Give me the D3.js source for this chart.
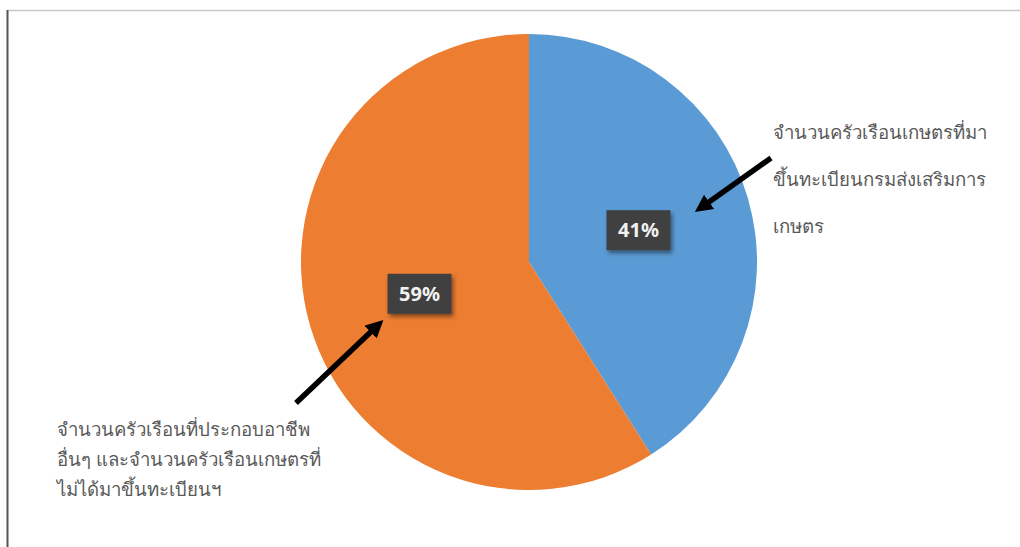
<!DOCTYPE html>
<html>
<head>
<meta charset="utf-8">
<title>Pie chart</title>
<script src="https://cdnjs.cloudflare.com/ajax/libs/d3/7.8.5/d3.min.js"></script>
<style>
body { margin:0; background:#fff; }
svg text { font-family: "Noto Sans", "DejaVu Sans", sans-serif; }
</style>
</head>
<body>
<div id="chart"></div>
<script>
// slice data, clockwise from the top
var categories = ['จำนวนครัวเรือนเกษตรที่มาขึ้นทะเบียน', 'จำนวนครัวเรือนอื่นๆ'];
var values = [41, 59];
var colors = ['#5b9bd5', '#ed7d31'];

// annotation text lines
var rightNote = ['จำนวนครัวเรือนเกษตรที่มา', 'ขึ้นทะเบียนกรมส่งเสริมการ', 'เกษตร'];
var leftNote = ['จำนวนครัวเรือนที่ประกอบอาชีพ', 'อื่นๆ และจำนวนครัวเรือนเกษตรที่', 'ไม่ได้มาขึ้นทะเบียนฯ'];

var width = 1020, height = 547;
var cx = 529, cy = 262, r = 228;

var svg = d3.select('#chart').append('svg')
    .attr('width', width)
    .attr('height', height);

var defs = svg.append('defs');
var shadow = defs.append('filter').attr('id', 'shadow')
    .attr('x', '-20%').attr('y', '-20%').attr('width', '150%').attr('height', '160%');
shadow.append('feDropShadow').attr('dx', 2).attr('dy', 3).attr('stdDeviation', 2)
    .attr('flood-color', '#000').attr('flood-opacity', 0.45);

var arrowHead = defs.append('marker').attr('id', 'head')
    .attr('viewBox', '0 0 10 10').attr('refX', 5).attr('refY', 5)
    .attr('markerWidth', 3.2).attr('markerHeight', 3.2).attr('orient', 'auto');
arrowHead.append('path').attr('d', 'M0,0 L10,5 L0,10 z').attr('fill', '#000');

// frame lines (top and left)
svg.append('line').attr('x1', 7).attr('y1', 10.5).attr('x2', width).attr('y2', 10.5)
    .attr('stroke', '#c8c8c8').attr('stroke-width', 1.5);
svg.append('line').attr('x1', 7.5).attr('y1', 10).attr('x2', 7.5).attr('y2', height)
    .attr('stroke', '#555').attr('stroke-width', 2);

var pie = d3.pie().sort(null).value(function(d) { return d; });
var arc = d3.arc().innerRadius(0).outerRadius(r);
var labelArc = d3.arc().innerRadius(r * 0.5).outerRadius(r * 0.5);

var g = svg.append('g').attr('transform', 'translate(' + cx + ',' + cy + ')');
var arcs = pie(values);

g.selectAll('path.slice').data(arcs).enter().append('path')
    .attr('class', 'slice')
    .attr('d', arc)
    .attr('fill', function(d, i) { return colors[i]; });

// data labels
var lab = g.selectAll('g.lab').data(arcs).enter().append('g')
    .attr('class', 'lab')
    .attr('transform', function(d) {
        var c = labelArc.centroid(d);
        return 'translate(' + c[0] + ',' + c[1] + ')';
    });
lab.append('rect')
    .attr('x', -32).attr('y', -20).attr('width', 64).attr('height', 40)
    .attr('fill', '#404040')
    .attr('filter', 'url(#shadow)');
lab.append('text')
    .attr('text-anchor', 'middle')
    .attr('dy', '0.36em')
    .attr('fill', '#f2f2f2')
    .attr('font-size', 20)
    .attr('font-weight', 'bold')
    .text(function(d) { return d.data + '%'; });

// arrows
function arrow(x1, y1, x2, y2) {
    svg.append('line')
        .attr('x1', x1).attr('y1', y1).attr('x2', x2).attr('y2', y2)
        .attr('stroke', '#000').attr('stroke-width', 5.5)
        .attr('marker-end', 'url(#head)');
}
arrow(771, 158, 702, 207);
arrow(296, 403, 377, 326);

// annotation text
function note(lines, x, y, step) {
    var t = svg.append('text').attr('font-size', 18.6).attr('fill', '#595959');
    lines.forEach(function(s, i) {
        t.append('tspan').attr('x', x).attr('y', y + i * step).text(s);
    });
}
note(rightNote, 773, 139, 47);
note(leftNote, 57, 436, 30);
</script>
</body>
</html>
